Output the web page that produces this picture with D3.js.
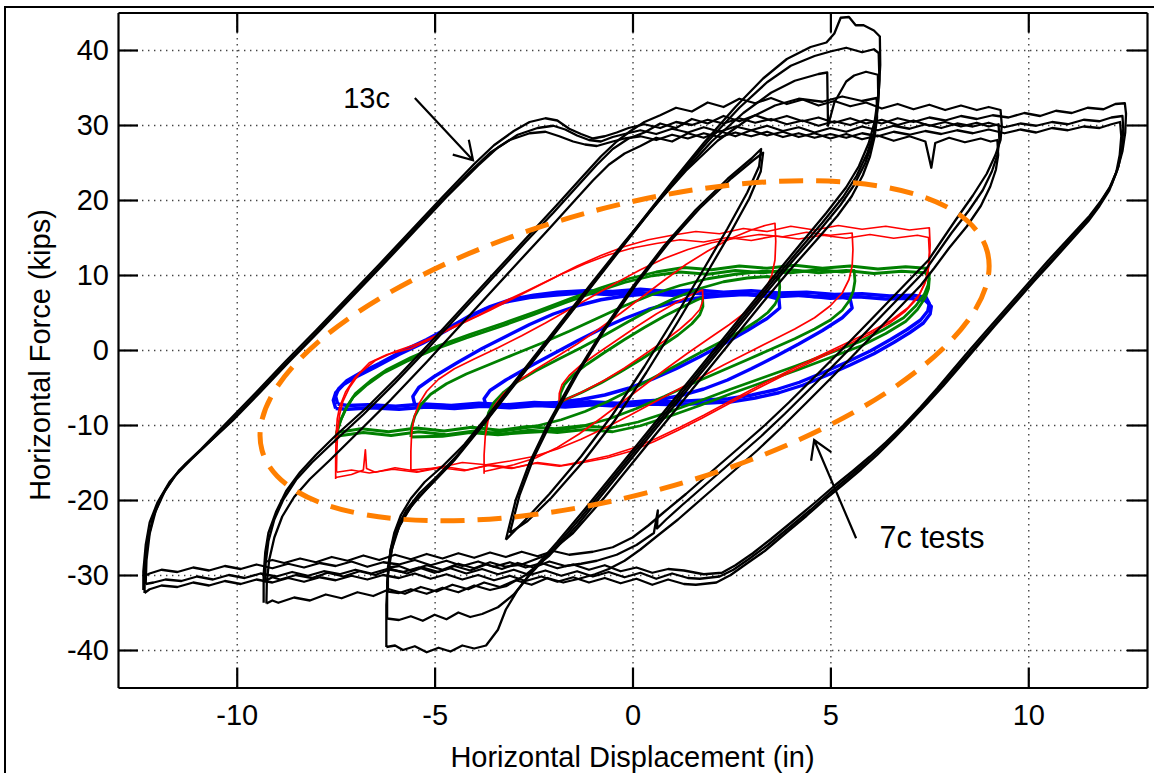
<!DOCTYPE html>
<html>
<head>
<meta charset="utf-8">
<script src="https://cdn.jsdelivr.net/npm/d3@7"></script>
<style>
  body { margin: 0; background: #fff; }
  text { font-family: "Liberation Sans", Arial, Helvetica, sans-serif; }
</style>
</head>
<body>
<svg id="chart" width="1154" height="773"></svg>
<script>
// ---- axis ticks ----
const xTicks = [-10, -5, 0, 5, 10];
const yTicks = [-40, -30, -20, -10, 0, 10, 20, 30, 40];

// ---- 13c specimen: three cycles at ~12.4 in ----
const c13_12a = [[-12.36,-32.0],[-12.36,-29.5],[-12.3,-26],[-12.2,-23],[-12.0,-20.3],[-11.7,-17.6],[-11.3,-15.2],[-10.9,-13.2],[-10.2,-9.4],[-9.5,-5.6],[-8.8,-1.7],[-8.0,2.6],[-7.2,7.0],[-6.4,11.4],[-5.6,15.9],[-4.8,20.4],[-4.0,24.8],[-3.5,27.3],[-3.0,29.2],[-2.6,30.4],[-2.2,30.9],[-1.9,30.6],[-1.6,29.5],[-1.3,28.8],[-1.0,28.2],[-0.7,28.5],[-0.4,29.0],[-0.1,29.6],
[0.3,30.1],[0.7,29.6],[1.1,30.4],[1.5,30.0],[1.9,30.7],[2.3,30.2],[2.7,30.9],[3.1,30.3],[3.5,30.8],[3.9,30.1],[4.3,30.6],[4.7,29.9],[5.1,30.5],[5.5,30.0],[5.9,30.7],[6.3,30.2],[6.7,30.9],[7.1,30.4],[7.5,31.0],[7.9,30.6],[8.3,31.2],[8.7,30.8],[9.1,31.3],[9.5,31.0],[9.9,31.6],[10.3,31.2],[10.7,31.9],[11.1,31.6],[11.5,32.3],[11.9,32.1],[12.2,32.8],[12.44,32.9],
[12.47,31.5],[12.45,29],[12.38,26.5],[12.25,24],[12.05,21.6],[11.84,19.9],[11.55,17.9],[11.2,15.9],[10.85,13.9],[10.5,11.9],[10.0,8.9],[9.5,5.9],[9.0,2.9],[8.52,0.0],[8.1,-2.6],[7.7,-5.1],[7.28,-7.6],[6.85,-10.0],[6.4,-12.3],[6.0,-14.2],[5.55,-16.2],[5.08,-18.2],[4.6,-20.4],[4.1,-22.6],[3.5,-25.2],[3.04,-27.1],[2.6,-28.7],[2.26,-29.7],
[1.8,-29.9],[1.3,-29.4],[0.9,-29.2],[0.5,-29.7],[0.1,-29.0],[-0.3,-29.5],[-0.7,-28.7],[-1.1,-29.3],[-1.5,-28.6],[-1.9,-29.1],[-2.3,-28.4],[-2.7,-29.0],[-3.1,-28.3],[-3.5,-28.9],[-3.9,-28.2],[-4.3,-28.8],[-4.7,-28.1],[-5.1,-28.7],[-5.5,-28.0],[-5.9,-28.6],[-6.3,-28.3],[-6.7,-28.9],[-7.1,-28.2],[-7.5,-28.8],[-7.9,-28.4],[-8.3,-29.0],[-8.7,-28.5],[-9.1,-29.1],[-9.5,-28.6],[-9.9,-29.2],[-10.3,-28.8],[-10.7,-29.4],[-11.1,-29.0],[-11.5,-29.6],[-11.9,-29.3],[-12.2,-29.8],[-12.36,-30.2]];
const c13_12b = [[-12.3,-31.2],[-12.28,-28],[-12.2,-24.5],[-12.05,-21.5],[-11.8,-18.6],[-11.45,-16],[-11.0,-13.8],[-10.1,-9.4],[-9.4,-5.6],[-8.7,-1.7],[-7.9,2.6],[-7.1,7.0],[-6.3,11.4],[-5.5,15.9],[-4.7,20.4],[-3.9,24.6],[-3.4,27.0],[-2.9,28.7],[-2.4,29.6],[-2.0,29.9],[-1.7,29.4],[-1.4,28.6],[-1.1,28.0],[-0.8,27.8],[-0.5,28.4],[-0.2,28.8],
[0.2,29.3],[0.6,28.8],[1.0,29.5],[1.4,29.0],[1.8,29.7],[2.2,29.1],[2.6,29.8],[3.0,29.3],[3.4,29.9],[3.8,29.2],[4.2,29.7],[4.6,29.0],[5.0,29.6],[5.4,29.1],[5.8,29.8],[6.2,29.3],[6.6,29.9],[7.0,29.5],[7.4,30.1],[7.8,29.6],[8.2,30.2],[8.6,29.8],[9.0,30.3],[9.4,29.7],[9.8,30.2],[10.2,29.9],[10.6,30.4],[11.0,30.1],[11.4,30.7],[11.8,30.5],[12.1,31.0],[12.38,31.2],
[12.4,29.5],[12.37,27],[12.28,24.5],[12.1,22],[11.9,20.3],[11.65,18.3],[11.32,16.3],[10.98,14.3],[10.64,12.3],[10.3,10.3],[9.8,7.3],[9.3,4.3],[8.82,1.4],[8.36,-1.4],[7.95,-3.9],[7.55,-6.3],[7.14,-8.6],[6.72,-10.9],[6.28,-13.2],[5.88,-15.1],[5.43,-17.1],[4.97,-19.1],[4.5,-21.3],[4.0,-23.5],[3.42,-26.0],[2.96,-27.8],[2.55,-29.3],[2.2,-30.2],
[1.7,-30.5],[1.4,-30.4],[1.0,-29.8],[0.6,-30.5],[0.2,-29.7],[-0.2,-30.3],[-0.6,-29.6],[-1.0,-30.2],[-1.4,-29.5],[-1.8,-30.1],[-2.2,-29.4],[-2.6,-30.0],[-3.0,-29.3],[-3.4,-29.9],[-3.8,-29.2],[-4.2,-29.8],[-4.6,-29.1],[-5.0,-29.7],[-5.4,-29.0],[-5.8,-29.6],[-6.2,-29.2],[-6.6,-29.8],[-7.0,-29.3],[-7.4,-29.9],[-7.8,-29.5],[-8.2,-30.1],[-8.6,-29.6],[-9.0,-30.2],[-9.4,-29.8],[-9.8,-30.4],[-10.2,-30.0],[-10.6,-30.6],[-11.0,-30.2],[-11.4,-30.8],[-11.8,-30.6],[-12.1,-31.0],[-12.3,-31.2]];
const c13_12c = [[-12.33,-32.4],[-12.32,-29],[-12.25,-25.5],[-12.12,-22.4],[-11.9,-19.5],[-11.58,-16.9],[-11.15,-14.6],[-10.3,-10.3],[-9.6,-6.5],[-8.9,-2.6],[-8.1,1.7],[-7.3,6.1],[-6.5,10.5],[-5.7,15.0],[-4.9,19.5],[-4.1,23.8],[-3.6,26.3],[-3.1,28.0],[-2.6,28.9],[-2.2,29.1],[-1.85,28.5],[-1.5,27.8],[-1.2,27.4],[-0.9,27.2],[-0.5,27.8],[-0.2,28.2],
[0.2,28.5],[0.6,28.0],[1.0,28.7],[1.4,28.2],[1.8,28.9],[2.2,28.4],[2.6,29.0],[3.0,28.5],[3.4,29.1],[3.8,28.4],[4.2,28.9],[4.6,28.3],[5.0,28.8],[5.4,28.3],[5.8,28.9],[6.2,28.5],[6.6,29.1],[7.0,28.7],[7.4,29.2],[7.8,28.8],[8.2,29.3],[8.6,28.9],[9.0,29.4],[9.4,28.9],[9.8,29.4],[10.2,29.0],[10.6,29.6],[11.0,29.3],[11.4,29.8],[11.8,29.6],[12.1,30.1],[12.32,30.4],
[12.35,28.5],[12.31,26],[12.22,23.6],[12.04,21.2],[11.8,19.2],[11.52,17.2],[11.18,15.2],[10.84,13.2],[10.5,11.2],[10.15,9.2],[9.65,6.2],[9.15,3.2],[8.68,0.3],[8.26,-2.3],[7.85,-4.8],[7.45,-7.1],[7.04,-9.4],[6.62,-11.7],[6.18,-14.0],[5.78,-15.9],[5.33,-17.9],[4.87,-19.9],[4.4,-22.1],[3.9,-24.3],[3.34,-26.8],[2.88,-28.5],[2.48,-30.0],[2.12,-31.0],
[1.6,-31.3],[1.3,-31.2],[0.9,-30.6],[0.5,-31.3],[0.1,-30.5],[-0.3,-31.1],[-0.7,-30.4],[-1.1,-31.0],[-1.5,-30.3],[-1.9,-30.9],[-2.3,-30.2],[-2.7,-30.8],[-3.1,-30.1],[-3.5,-30.7],[-3.9,-30.0],[-4.3,-30.6],[-4.7,-29.9],[-5.1,-30.5],[-5.5,-29.8],[-5.9,-30.4],[-6.3,-30.0],[-6.7,-30.6],[-7.1,-30.1],[-7.5,-30.7],[-7.9,-30.3],[-8.3,-30.9],[-8.7,-30.4],[-9.1,-31.0],[-9.5,-30.6],[-9.9,-31.2],[-10.3,-30.8],[-10.7,-31.4],[-11.1,-31.0],[-11.5,-31.6],[-11.9,-31.4],[-12.2,-31.9],[-12.33,-32.4]];

// ---- 13c specimen: cycles at ~9.3 in ----
const c13_9a = [[-9.32,-33.7],[-9.32,-30],[-9.28,-27],[-9.2,-24.4],[-9.0,-21.5],[-8.75,-18.8],[-8.4,-16.3],[-8.0,-14.0],[-7.5,-11.4],[-6.7,-7.6],[-5.9,-3.4],[-5.0,1.6],[-4.2,6.2],[-3.4,10.8],[-2.6,15.4],[-1.9,19.4],[-1.3,22.9],[-0.8,25.8],[-0.4,27.8],[-0.05,29.2],
[0.3,30.4],[0.7,31.3],[1.1,32.3],[1.5,31.8],[1.9,33.0],[2.3,32.4],[2.7,33.5],[3.1,32.9],[3.5,33.6],[3.9,32.8],[4.3,33.4],[4.7,32.6],[5.1,33.2],[5.5,32.5],[5.9,33.0],[6.3,32.2],[6.7,32.8],[7.1,32.1],[7.5,32.7],[7.9,32.0],[8.3,32.6],[8.7,32.0],[9.0,32.4],[9.3,32.0],
[9.33,30],[9.3,28],[9.17,26.0],[8.95,23.5],[8.6,20.6],[8.16,17.3],[7.8,14.5],[7.48,12.0],[6.75,8.0],[6.0,3.9],[5.3,0.1],[4.6,-3.6],[3.95,-7.0],[3.35,-10.0],[2.7,-13.0],[2.0,-16.2],[1.35,-19.2],[0.8,-21.6],[0.4,-23.4],[0.0,-25.0],[-0.5,-26.3],[-1.0,-26.9],
[-1.6,-27.3],[-2.0,-26.8],[-2.4,-27.5],[-2.8,-26.9],[-3.2,-27.6],[-3.6,-27.0],[-4.0,-27.7],[-4.4,-27.1],[-4.8,-27.8],[-5.2,-27.2],[-5.6,-27.9],[-6.0,-27.3],[-6.4,-28.0],[-6.8,-27.4],[-7.2,-28.1],[-7.6,-27.6],[-8.0,-28.3],[-8.4,-27.8],[-8.8,-28.4],[-9.1,-28.0],[-9.32,-28.3]];
const c13_9b = [[-9.28,-31.0],[-9.27,-28.5],[-9.2,-25.5],[-9.05,-22.6],[-8.82,-19.9],[-8.5,-17.3],[-8.1,-15.0],[-7.6,-12.5],[-6.8,-8.6],[-6.0,-4.4],[-5.1,0.6],[-4.3,5.2],[-3.5,9.8],[-2.7,14.4],[-2.0,18.3],[-1.4,21.8],[-0.9,24.7],[-0.5,26.8],[-0.1,28.2],
[0.3,29.0],[0.7,30.2],[1.1,29.6],[1.5,30.8],[1.9,30.2],[2.3,31.2],[2.7,30.5],[3.1,31.3],[3.5,30.6],[3.9,31.2],[4.3,30.5],[4.7,31.0],[5.1,30.3],[5.5,30.9],[5.9,30.2],[6.3,30.7],[6.7,30.0],[7.1,30.6],[7.5,29.9],[7.9,30.4],[8.3,29.8],[8.7,30.3],[9.0,29.8],[9.25,30.1],
[9.27,28],[9.22,26],[9.08,23.8],[8.85,21.3],[8.5,18.6],[8.06,15.6],[7.7,12.9],[7.38,10.5],[6.65,6.5],[5.9,2.4],[5.2,-1.4],[4.5,-5.1],[3.85,-8.5],[3.25,-11.5],[2.6,-14.5],[1.9,-17.7],[1.25,-20.7],[0.85,-22.6],[0.62,-23.8],[0.64,-21.4],[0.54,-24.4],[0.1,-26.0],[-0.4,-27.3],[-0.9,-28.1],[-1.3,-28.5],
[-1.7,-28.8],[-2.1,-28.2],[-2.5,-29.0],[-2.9,-28.4],[-3.3,-29.2],[-3.7,-28.6],[-4.1,-29.4],[-4.5,-28.8],[-4.9,-29.6],[-5.3,-29.0],[-5.7,-29.8],[-6.1,-29.2],[-6.5,-30.0],[-6.9,-29.5],[-7.3,-30.2],[-7.7,-29.7],[-8.1,-30.4],[-8.5,-30.0],[-8.9,-30.6],[-9.1,-30.3],[-9.28,-30.8]];
const c13_9c = [[-9.25,-33.8],[-9.24,-31],[-9.18,-28],[-9.05,-25.0],[-8.85,-22.2],[-8.55,-19.6],[-8.15,-17.2],[-7.65,-14.7],[-6.9,-10.8],[-6.1,-6.6],[-5.2,-1.6],[-4.4,3.0],[-3.6,7.6],[-2.8,12.2],[-2.1,16.2],[-1.5,19.7],[-1.0,22.6],[-0.6,24.7],[-0.2,26.2],
[0.2,27.2],[0.6,28.3],[1.0,27.8],[1.4,28.9],[1.8,28.3],[2.2,29.2],[2.6,28.5],[3.0,29.3],[3.4,28.6],[3.8,29.1],[4.2,28.4],[4.6,28.9],[5.0,28.2],[5.4,28.8],[5.8,28.1],[6.2,28.6],[6.6,27.9],[7.0,28.5],[7.4,27.8],[7.55,24.3],[7.65,27.6],[8.0,28.3],[8.4,27.7],[8.8,28.2],[9.05,27.8],[9.22,28.0],
[9.24,26],[9.18,24],[9.04,21.8],[8.8,19.2],[8.45,16.5],[8.0,13.6],[7.62,10.9],[7.28,8.6],[6.55,4.6],[5.8,0.5],[5.1,-3.3],[4.4,-7.0],[3.75,-10.4],[3.15,-13.4],[2.5,-16.4],[1.8,-19.6],[1.15,-22.6],[0.6,-24.9],[0.2,-26.6],[-0.2,-28.1],[-0.6,-29.2],[-0.95,-29.9],[-1.35,-30.5],
[-1.75,-31.0],[-2.15,-30.4],[-2.55,-31.3],[-2.95,-30.7],[-3.35,-31.6],[-3.75,-31.0],[-4.15,-31.9],[-4.55,-31.3],[-4.95,-32.2],[-5.35,-31.6],[-5.75,-32.5],[-6.15,-31.9],[-6.55,-32.8],[-6.95,-32.3],[-7.35,-33.1],[-7.75,-32.6],[-8.15,-33.4],[-8.55,-33.0],[-8.95,-33.7],[-9.1,-33.4],[-9.25,-33.8]];

// ---- 13c specimen: cycles at ~6.2 in ----
const c13_6a = [[-6.22,-39.6],[-6.22,-34],[-6.18,-30],[-6.08,-26.6],[-5.9,-23.6],[-5.6,-20.9],[-5.2,-18.5],[-4.6,-15.2],[-3.8,-10.0],[-3.0,-4.6],[-2.2,0.8],[-1.4,6.2],[-0.6,11.6],[0.2,17.0],[1.0,22.4],[1.8,27.6],[2.6,32.4],[3.3,36.2],[3.9,38.8],[4.5,40.4],[4.9,41.0],[5.1,42.2],[5.26,44.3],[5.47,44.4],[5.64,43.3],[5.84,43.3],[6.1,42.6],[6.25,41.8],
[6.26,38],[6.22,34.3],[6.12,30.5],[5.97,27.6],[5.72,24.5],[5.4,21.7],[4.9,18.3],[4.3,14.5],[3.6,10.0],[2.8,4.8],[2.0,-0.4],[1.2,-5.6],[0.4,-10.8],[-0.4,-16.0],[-1.2,-21.2],[-1.9,-25.6],[-2.5,-29.2],[-2.9,-32.0],[-3.2,-34.6],[-3.4,-37.3],[-3.7,-39.4],
[-4.0,-39.8],[-4.3,-39.4],[-4.6,-40.2],[-4.9,-39.7],[-5.2,-40.3],[-5.5,-39.5],[-5.8,-40.0],[-6.0,-39.4],[-6.22,-39.6]];
const c13_6b = [[-6.2,-35.8],[-6.2,-31],[-6.14,-28],[-6.02,-25.2],[-5.82,-22.6],[-5.5,-20.2],[-5.08,-17.9],[-4.5,-14.7],[-3.7,-9.5],[-2.9,-4.1],[-2.1,1.3],[-1.3,6.7],[-0.5,12.1],[0.3,17.5],[1.1,22.8],[1.9,27.8],[2.7,32.3],[3.4,35.7],[4.0,37.9],[4.6,39.2],[5.0,39.8],[5.4,40.3],[5.8,39.7],[6.1,40.1],[6.22,39.6],
[6.24,36],[6.2,32.5],[6.1,29.0],[5.93,26.2],[5.66,23.2],[5.32,20.4],[4.8,17.0],[4.2,13.3],[3.5,8.9],[2.7,3.7],[1.9,-1.5],[1.1,-6.7],[0.3,-11.9],[-0.5,-17.1],[-1.3,-22.3],[-2.0,-26.6],[-2.6,-30.0],[-3.0,-32.6],[-3.4,-34.3],[-3.8,-35.2],
[-4.1,-35.6],[-4.4,-35.0],[-4.7,-35.9],[-5.0,-35.3],[-5.3,-36.1],[-5.6,-35.5],[-5.9,-36.0],[-6.2,-35.8]];
const c13_6c = [[-6.18,-32.2],[-6.18,-29],[-6.1,-26.4],[-5.96,-23.8],[-5.72,-21.4],[-5.38,-19.1],[-4.95,-16.9],[-4.4,-13.9],[-3.6,-8.7],[-2.8,-3.3],[-2.0,2.1],[-1.2,7.5],[-0.4,12.9],[0.4,18.2],[1.2,23.2],[2.0,27.8],[2.8,31.6],[3.5,34.3],[4.1,35.9],[4.7,36.8],[4.92,37.0],[4.94,29.9],[5.1,33.0],[5.4,35.8],[5.6,36.6],[5.9,37.1],[6.2,36.7],
[6.21,33.5],[6.16,30.5],[6.05,27.5],[5.88,24.9],[5.6,22.0],[5.25,19.3],[4.72,15.9],[4.1,12.2],[3.4,7.8],[2.6,2.6],[1.8,-2.6],[1.0,-7.8],[0.2,-13.0],[-0.6,-18.2],[-1.4,-23.4],[-2.1,-27.4],[-2.7,-30.0],[-3.2,-31.5],
[-3.6,-32.0],[-4.0,-31.4],[-4.4,-32.3],[-4.8,-31.7],[-5.2,-32.5],[-5.6,-31.9],[-5.9,-32.4],[-6.18,-32.2]];
const c13_6d = [[-6.15,-29.0],[-6.12,-26.8],[-6.02,-24.4],[-5.85,-22.0],[-5.6,-19.8],[-5.25,-17.6],[-4.8,-15.5],[-4.25,-12.6],[-3.45,-7.4],[-2.65,-2.0],[-1.85,3.4],[-1.05,8.8],[-0.25,14.1],[0.55,19.2],[1.35,23.9],[2.15,27.9],[2.95,30.9],[3.6,32.6],[4.2,33.5],[4.8,33.1],[5.3,33.8],[5.8,33.2],[6.17,33.6],
[6.18,31],[6.12,28.5],[6.0,25.8],[5.82,23.3],[5.54,20.5],[5.18,17.9],[4.64,14.6],[4.0,10.8],[3.3,6.4],[2.5,1.2],[1.7,-4.0],[0.9,-9.2],[0.1,-14.4],[-0.7,-19.6],[-1.5,-24.4],[-2.2,-27.4],[-2.8,-28.6],
[-3.2,-28.9],[-3.6,-28.3],[-4.0,-29.1],[-4.4,-28.5],[-4.8,-29.3],[-5.2,-28.7],[-5.6,-29.4],[-5.9,-28.8],[-6.15,-29.0]];

// ---- 13c specimen: cycles at ~3.2 in ----
const c13_3a = [[-3.2,-25.3],[-2.95,-20],[-2.6,-15],[-2.1,-9.5],[-1.5,-3.8],[-0.8,2.2],[0.0,8.4],[0.8,13.9],[1.6,18.7],[2.4,22.8],[3.0,25.5],[3.25,26.8],[3.2,24.5],[2.9,21],[2.4,16.2],[1.8,10.8],[1.1,4.6],[0.3,-2.2],[-0.5,-8.6],[-1.3,-14.2],[-2.1,-19.2],[-2.7,-22.6],[-3.2,-25.3]];
const c13_3b = [[-3.1,-24.4],[-2.85,-19.3],[-2.5,-14.4],[-2.0,-9.0],[-1.4,-3.3],[-0.7,2.7],[0.1,8.8],[0.9,14.2],[1.7,18.9],[2.5,22.9],[3.05,25.3],[3.3,26.3],[3.24,23.8],[2.95,20.2],[2.45,15.4],[1.85,10.0],[1.15,3.8],[0.35,-3.0],[-0.45,-9.4],[-1.25,-14.9],[-2.05,-19.7],[-2.65,-22.8],[-3.1,-24.4]];

// ---- 7c tests, blue specimen ----
const blue75a = [[-7.5,-7.8],[-7.56,-6.7],[-7.5,-5.7],[-7.3,-4.6],[-6.95,-3.5],[-6.5,-2.3],[-5.9,-0.6],[-5.3,0.9],[-4.7,2.6],[-4.2,4.2],[-3.7,5.5],[-3.2,6.4],[-2.6,7.0],[-2.0,7.3],[-1.3,7.6],[-0.6,7.4],[0.1,7.7],[0.8,7.4],[1.5,7.6],[2.2,7.3],[2.9,7.5],[3.6,7.1],[4.3,7.3],[5.0,6.9],[5.7,7.1],[6.4,6.8],[7.0,6.9],[7.4,6.6],[7.55,5.8],
[7.52,4.8],[7.35,3.6],[7.0,2.3],[6.6,1.0],[6.1,-0.5],[5.5,-2.0],[4.9,-3.4],[4.3,-4.7],[3.7,-5.7],[3.1,-6.4],[2.5,-6.9],[1.8,-7.1],[1.1,-7.3],[0.4,-7.2],[-0.3,-7.5],[-1.0,-7.3],[-1.7,-7.6],[-2.4,-7.4],[-3.1,-7.7],[-3.8,-7.5],[-4.5,-7.8],[-5.2,-7.6],[-5.9,-7.9],[-6.6,-7.7],[-7.2,-7.9],[-7.5,-7.8]];
const blue75b = [[-7.45,-7.2],[-7.5,-6.2],[-7.43,-5.2],[-7.22,-4.1],[-6.86,-3.0],[-6.4,-1.8],[-5.8,-0.1],[-5.2,1.4],[-4.6,3.1],[-4.1,4.6],[-3.6,5.8],[-3.1,6.7],[-2.5,7.3],[-1.9,7.7],[-1.2,7.9],[-0.5,7.8],[0.2,8.1],[0.9,7.8],[1.6,8.0],[2.3,7.7],[3.0,7.9],[3.7,7.6],[4.4,7.7],[5.1,7.4],[5.8,7.5],[6.5,7.2],[7.1,7.3],[7.42,7.0],[7.5,6.2],
[7.46,5.2],[7.28,4.0],[6.93,2.7],[6.52,1.4],[6.02,-0.1],[5.42,-1.6],[4.82,-3.0],[4.22,-4.3],[3.62,-5.3],[3.02,-6.0],[2.42,-6.5],[1.72,-6.7],[1.02,-6.9],[0.32,-6.8],[-0.38,-7.1],[-1.08,-6.9],[-1.78,-7.2],[-2.48,-7.0],[-3.18,-7.3],[-3.88,-7.1],[-4.58,-7.4],[-5.28,-7.2],[-5.98,-7.5],[-6.68,-7.3],[-7.2,-7.4],[-7.45,-7.2]];
const blue56 = [[-5.5,-7.3],[-5.55,-6.2],[-5.4,-5],[-5.0,-3.5],[-4.4,-1.6],[-3.8,0.2],[-3.2,1.8],[-2.6,3.4],[-2.0,4.8],[-1.4,5.9],[-0.8,6.7],[-0.2,7.2],[0.4,7.5],[1.0,7.3],[1.6,7.6],[2.2,7.3],[2.8,7.5],[3.4,7.2],[4.0,7.4],[4.6,7.1],[5.2,7.2],[5.5,6.8],
[5.55,5.6],[5.3,4.3],[4.8,2.6],[4.2,0.8],[3.6,-0.9],[3.0,-2.5],[2.4,-4.0],[1.8,-5.2],[1.2,-6.1],[0.6,-6.7],[0.0,-7.0],[-0.6,-7.3],[-1.2,-7.1],[-1.8,-7.4],[-2.4,-7.2],[-3.0,-7.5],[-3.6,-7.3],[-4.2,-7.6],[-4.8,-7.4],[-5.5,-7.3]];
const blue37 = [[-3.7,-7.4],[-3.75,-6.5],[-3.6,-5.4],[-3.2,-4.0],[-2.6,-2.2],[-2.0,-0.5],[-1.4,1.2],[-0.8,2.8],[-0.2,4.2],[0.4,5.4],[1.0,6.3],[1.6,6.9],[2.2,7.2],[2.8,7.4],[3.4,7.2],[3.7,6.8],
[3.72,5.6],[3.4,4.2],[2.9,2.6],[2.3,0.8],[1.7,-0.9],[1.1,-2.5],[0.5,-3.9],[-0.1,-5.1],[-0.7,-6.0],[-1.3,-6.6],[-1.9,-7.0],[-2.5,-7.2],[-3.1,-7.4],[-3.7,-7.4]];

// ---- 7c tests, green specimen ----
const green75a = [[-7.5,-12.4],[-7.48,-11],[-7.4,-9.7],[-7.25,-7.9],[-7.06,-6.3],[-6.7,-4.6],[-6.3,-3.1],[-5.7,-1.5],[-5.04,0],[-4.2,1.6],[-3.35,3.1],[-2.5,4.7],[-1.7,6.3],[-0.9,7.8],[-0.2,9.0],[0.5,9.9],[1.2,10.4],[1.9,10.1],[2.6,10.6],[3.3,10.3],[4.0,10.7],[4.7,10.3],[5.4,10.6],[6.1,10.2],[6.8,10.5],[7.4,10.3],
[7.5,9.5],[7.48,8.2],[7.4,7.0],[7.2,5.4],[6.9,3.8],[6.4,2.2],[5.8,0.6],[5.0,-1.0],[4.2,-2.6],[3.35,-4.2],[2.5,-5.8],[1.7,-7.4],[0.9,-8.9],[0.2,-10.1],[-0.5,-10.9],[-1.2,-10.6],[-1.9,-11.0],[-2.6,-10.7],[-3.3,-11.2],[-4.0,-10.8],[-4.7,-11.3],[-5.4,-10.9],[-6.1,-11.4],[-6.8,-11.0],[-7.5,-11.5]];
const green75b = [[-7.46,-11.8],[-7.44,-10.5],[-7.36,-9.2],[-7.2,-7.4],[-7.0,-5.8],[-6.62,-4.1],[-6.2,-2.6],[-5.6,-1.0],[-4.94,0.5],[-4.1,2.1],[-3.25,3.6],[-2.4,5.2],[-1.6,6.8],[-0.8,8.3],[-0.1,9.5],[0.6,10.4],[1.3,11.0],[2.0,10.7],[2.7,11.2],[3.4,10.9],[4.1,11.3],[4.8,10.9],[5.5,11.2],[6.2,10.8],[6.9,11.1],[7.42,10.9],
[7.5,10.0],[7.47,8.7],[7.38,7.5],[7.16,5.9],[6.85,4.3],[6.34,2.7],[5.74,1.1],[4.94,-0.5],[4.14,-2.1],[3.29,-3.7],[2.44,-5.3],[1.64,-6.9],[0.84,-8.4],[0.14,-9.6],[-0.56,-10.4],[-1.26,-10.1],[-1.96,-10.5],[-2.66,-10.2],[-3.36,-10.7],[-4.06,-10.3],[-4.76,-10.8],[-5.46,-10.4],[-6.16,-10.9],[-6.86,-10.5],[-7.46,-11.0]];
const green56 = [[-5.6,-11.6],[-5.58,-10.2],[-5.5,-8.8],[-5.35,-7.3],[-5.1,-5.9],[-4.7,-4.5],[-4.2,-3.2],[-3.6,-1.9],[-3.0,-0.6],[-2.3,0.9],[-1.6,2.5],[-0.9,4.2],[-0.2,5.9],[0.5,7.4],[1.2,8.6],[1.9,9.5],[2.6,10.1],[3.3,10.5],[4.0,10.3],[4.7,10.7],[5.3,10.4],[5.6,10.6],
[5.62,9.2],[5.58,7.9],[5.48,6.6],[5.3,5.3],[5.0,4.0],[4.6,2.8],[4.1,1.5],[3.5,0.1],[2.9,-1.3],[2.2,-2.9],[1.5,-4.5],[0.8,-6.2],[0.1,-7.8],[-0.6,-9.2],[-1.3,-10.2],[-2.0,-10.8],[-2.7,-11.0],[-3.4,-11.3],[-4.1,-11.0],[-4.8,-11.5],[-5.6,-11.6]];
const green37 = [[-3.72,-11.2],[-3.7,-9.8],[-3.64,-8.4],[-3.5,-7.0],[-3.25,-5.6],[-2.9,-4.2],[-2.45,-2.8],[-1.9,-1.3],[-1.3,0.3],[-0.7,2.0],[-0.1,3.8],[0.5,5.5],[1.1,7.0],[1.7,8.2],[2.3,9.1],[2.9,9.6],[3.4,9.8],[3.7,9.6],
[3.72,8.4],[3.7,7.2],[3.6,6.1],[3.42,5.0],[3.15,3.9],[2.8,2.7],[2.35,1.4],[1.8,-0.1],[1.2,-1.8],[0.6,-3.5],[0.0,-5.2],[-0.6,-6.8],[-1.2,-8.2],[-1.8,-9.3],[-2.4,-10.1],[-3.0,-10.6],[-3.72,-11.2]];
const green18 = [[-1.84,-7.0],[-1.82,-5.8],[-1.72,-4.6],[-1.5,-3.3],[-1.15,-1.9],[-0.7,-0.3],[-0.2,1.4],[0.3,3.0],[0.8,4.5],[1.25,5.7],[1.6,6.6],[1.77,7.0],[1.78,5.8],[1.7,4.7],[1.5,3.5],[1.15,2.0],[0.7,0.4],[0.2,-1.3],[-0.3,-2.9],[-0.8,-4.4],[-1.3,-5.7],[-1.65,-6.5],[-1.84,-7.0]];

// ---- 7c tests, red specimen ----
const red75a = [[-7.5,-17.2],[-7.5,-14.5],[-7.49,-11.5],[-7.46,-9.2],[-7.4,-7.6],[-7.25,-5.6],[-7.0,-3.6],[-6.65,-1.7],[-6.2,-0.6],[-5.6,0.2],[-5.04,1.6],[-4.5,3.2],[-3.9,4.6],[-3.35,6.2],[-2.7,7.8],[-2.0,9.6],[-1.4,11.2],[-0.8,12.6],[-0.2,13.8],[0.4,14.7],[1.0,15.3],[1.6,15.8],[2.2,15.5],[2.8,16.2],[3.4,15.8],[4.0,16.5],[4.6,16.0],[5.2,16.6],[5.8,16.1],[6.4,16.5],[7.0,16.0],[7.5,16.3],
[7.52,14],[7.5,11.5],[7.42,9.3],[7.25,7.4],[6.95,5.6],[6.55,4.0],[6.0,2.4],[5.4,0.9],[4.8,-0.6],[4.2,-2.1],[3.6,-3.7],[3.0,-5.3],[2.4,-7.0],[1.8,-8.7],[1.2,-10.3],[0.6,-11.8],[0.0,-13.1],[-0.6,-14.1],[-1.2,-14.8],[-1.8,-15.4],[-2.4,-15.0],[-3.0,-15.7],[-3.6,-15.3],[-4.2,-16.0],[-4.8,-15.5],[-5.4,-16.2],[-6.0,-15.7],[-6.5,-16.3],[-6.72,-15.8],[-6.75,-13.3],[-6.8,-16.0],[-7.1,-16.6],[-7.5,-17.0]];
const red75b = [[-7.48,-16.2],[-7.47,-13.5],[-7.45,-10.8],[-7.4,-8.6],[-7.32,-6.9],[-7.15,-5.0],[-6.9,-3.1],[-6.5,-1.4],[-6.0,-0.2],[-5.4,0.9],[-4.8,2.3],[-4.2,3.8],[-3.6,5.3],[-3.0,6.9],[-2.4,8.5],[-1.8,10.1],[-1.2,11.5],[-0.6,12.7],[0.0,13.6],[0.6,14.2],[1.2,14.7],[1.8,14.4],[2.4,15.0],[3.0,14.6],[3.6,15.2],[4.2,14.8],[4.8,15.3],[5.4,14.9],[6.0,15.4],[6.6,14.9],[7.2,15.3],[7.48,15.0],
[7.5,13],[7.47,10.8],[7.38,8.8],[7.2,6.9],[6.9,5.2],[6.5,3.6],[5.95,2.0],[5.35,0.5],[4.75,-1.0],[4.15,-2.5],[3.55,-4.1],[2.95,-5.7],[2.35,-7.4],[1.75,-9.1],[1.15,-10.7],[0.55,-12.2],[-0.05,-13.5],[-0.65,-14.4],[-1.25,-15.0],[-1.85,-15.5],[-2.45,-15.1],[-3.05,-15.8],[-3.65,-15.4],[-4.25,-16.1],[-4.85,-15.7],[-5.45,-16.3],[-6.05,-15.9],[-6.65,-16.4],[-7.1,-16.0],[-7.48,-16.3]];
const red56 = [[-5.6,-16.0],[-5.6,-13.5],[-5.58,-11.0],[-5.52,-9.0],[-5.4,-7.2],[-5.2,-5.5],[-4.9,-3.9],[-4.5,-2.5],[-4.0,-1.2],[-3.4,0.3],[-2.8,1.9],[-2.2,3.6],[-1.6,5.4],[-1.0,7.2],[-0.4,9.0],[0.2,10.7],[0.8,12.2],[1.4,13.4],[2.0,14.3],[2.6,14.9],[3.2,15.4],[3.8,15.1],[4.4,15.7],[5.0,15.3],[5.55,15.6],
[5.57,13.4],[5.55,11.2],[5.47,9.4],[5.3,7.6],[5.0,5.9],[4.6,4.3],[4.1,2.8],[3.5,1.2],[2.9,-0.4],[2.3,-2.0],[1.7,-3.7],[1.1,-5.4],[0.5,-7.1],[-0.1,-8.8],[-0.7,-10.4],[-1.3,-11.9],[-1.9,-13.2],[-2.5,-14.2],[-3.1,-14.8],[-3.7,-15.3],[-4.3,-15.0],[-4.9,-15.7],[-5.6,-16.0]];
const red37 = [[-3.75,-16.5],[-3.75,-14],[-3.72,-11.5],[-3.65,-9.4],[-3.5,-7.5],[-3.25,-5.8],[-2.9,-4.2],[-2.45,-2.6],[-1.95,-1.0],[-1.4,0.8],[-0.85,2.8],[-0.3,4.9],[0.25,7.1],[0.8,9.3],[1.35,11.4],[1.9,13.2],[2.45,14.8],[3.0,16.0],[3.35,16.6],[3.6,16.9],
[3.62,14.5],[3.6,12.0],[3.52,10.0],[3.38,8.2],[3.15,6.5],[2.85,5.0],[2.45,3.4],[1.95,1.6],[1.4,-0.4],[0.85,-2.5],[0.3,-4.7],[-0.25,-6.9],[-0.8,-9.1],[-1.35,-11.2],[-1.9,-13.0],[-2.45,-14.4],[-3.0,-15.3],[-3.4,-15.8],[-3.75,-16.2]];
const red18 = [[-1.85,-7.0],[-1.85,-5.8],[-1.78,-4.6],[-1.6,-3.4],[-1.3,-2.0],[-0.9,-0.5],[-0.4,1.3],[0.1,3.1],[0.6,4.8],[1.1,6.3],[1.5,7.4],[1.77,8.0],[1.78,6.6],[1.7,5.4],[1.5,4.2],[1.2,2.8],[0.8,1.2],[0.3,-0.6],[-0.2,-2.4],[-0.7,-4.0],[-1.2,-5.4],[-1.6,-6.4],[-1.85,-7.0]];

// ---- annotation anchors (data units) ----
const label13c = { text: "13c", size: 29, at: [-7.31, 32.3], from: [-5.5, 33.6], to: [-4.03, 25.3] };
const label7c = { text: "7c tests", size: 30.5, at: [6.24, -26.4], from: [5.65, -25.1], to: [4.59, -12.0] };
const envelopeCenter = [-0.2, -0.1];

// ---- layout ----
const W = 1154, H = 773;
const plot = { left: 118, right: 1147, top: 12.5, bottom: 687.5 };
const svg = d3.select("#chart");
const x = d3.scaleLinear().domain([-13, 13]).range([plot.left, plot.right]);
const y = d3.scaleLinear().domain([-45, 45]).range([plot.bottom, plot.top]);
const FONT = 29;
const fmt = d => String(d);   // plain hyphen for negatives

// outer frame (left and top edges)
svg.append("path")
  .attr("d", `M5,${H + 2} V7 H${W + 2}`)
  .attr("fill", "none").attr("stroke", "#000").attr("stroke-width", 2);

// dotted grid
const grid = svg.append("g").attr("class", "grid");
grid.append("g").attr("transform", `translate(0,${plot.bottom})`)
  .call(d3.axisBottom(x).tickValues(xTicks).tickSize(-(plot.bottom - plot.top)).tickFormat(""));
grid.append("g").attr("transform", `translate(${plot.left},0)`)
  .call(d3.axisLeft(y).tickValues(yTicks).tickSize(-(plot.right - plot.left)).tickFormat(""));
grid.selectAll(".domain").remove();
grid.selectAll("line").attr("stroke", "#444").attr("stroke-width", 1.4).attr("stroke-dasharray", "1.4,4.6");

// clipped data layer
svg.append("clipPath").attr("id", "clip").append("rect")
  .attr("x", plot.left).attr("y", plot.top)
  .attr("width", plot.right - plot.left).attr("height", plot.bottom - plot.top);
const layer = svg.append("g").attr("clip-path", "url(#clip)");
const line = d3.line().x(d => x(d[0])).y(d => y(d[1]));

function drawLoops(loops, color, width) {
  layer.append("g").selectAll("path").data(loops).join("path")
    .attr("d", line).attr("fill", "none").attr("stroke", color)
    .attr("stroke-width", width).attr("stroke-linejoin", "round");
}
drawLoops([blue75a, blue75b, blue56, blue37], "#0000ff", 3.4);
drawLoops([green75a, green75b, green56, green37, green18], "#008000", 2.8);
drawLoops([red75a, red75b, red56, red37, red18], "#ff0000", 1.7);
drawLoops([c13_12a, c13_12b, c13_12c, c13_9a, c13_9b, c13_9c,
           c13_6a, c13_6b, c13_6c, c13_6d, c13_3a, c13_3b], "#000", 2.3);

// dashed envelope around the 7c tests
layer.append("ellipse")
  .attr("transform", `translate(${x(envelopeCenter[0])},${y(envelopeCenter[1])}) rotate(-15.35)`)
  .attr("rx", 376).attr("ry", 143)
  .attr("fill", "none").attr("stroke", "#ff7f00").attr("stroke-width", 5)
  .attr("stroke-dasharray", "24,13");

// axes: box with inward ticks on all four sides
function styleAxis(g) {
  g.selectAll(".domain").attr("stroke", "#000").attr("stroke-width", 2.2);
  g.selectAll(".tick line").attr("stroke", "#000").attr("stroke-width", 2.2);
  g.selectAll("text").attr("font-size", FONT).attr("fill", "#000")
    .attr("font-family", "'Liberation Sans', Arial, sans-serif");
}
svg.append("g").attr("transform", `translate(0,${plot.bottom})`)
  .call(d3.axisBottom(x).tickValues(xTicks).tickFormat(fmt).tickSize(-20).tickSizeOuter(0).tickPadding(17))
  .call(styleAxis);
svg.append("g").attr("transform", `translate(0,${plot.top})`)
  .call(d3.axisTop(x).tickValues(xTicks).tickSize(-20).tickSizeOuter(0).tickFormat(""))
  .call(styleAxis);
svg.append("g").attr("transform", `translate(${plot.left},0)`)
  .call(d3.axisLeft(y).tickValues(yTicks).tickFormat(fmt).tickSize(-20).tickSizeOuter(0).tickPadding(9))
  .call(styleAxis);
svg.append("g").attr("transform", `translate(${plot.right},0)`)
  .call(d3.axisRight(y).tickValues(yTicks).tickSize(-20).tickSizeOuter(0).tickFormat(""))
  .call(styleAxis);

// axis titles
svg.append("text").attr("x", (plot.left + plot.right) / 2).attr("y", 767)
  .attr("text-anchor", "middle").attr("font-size", FONT).text("Horizontal Displacement (in)");
svg.append("text").attr("transform", `translate(50,355) rotate(-90)`)
  .attr("text-anchor", "middle").attr("font-size", FONT).text("Horizontal Force (kips)");

// annotations with open arrowheads
function annotate(a) {
  svg.append("text").attr("x", x(a.at[0])).attr("y", y(a.at[1]))
    .attr("font-size", a.size).text(a.text);
  const x0 = x(a.from[0]), y0 = y(a.from[1]), x1 = x(a.to[0]), y1 = y(a.to[1]);
  const ang = Math.atan2(y1 - y0, x1 - x0), len = 21, spread = 0.55;
  const p = d3.path();
  p.moveTo(x0, y0); p.lineTo(x1, y1);
  p.moveTo(x1 - len * Math.cos(ang - spread), y1 - len * Math.sin(ang - spread));
  p.lineTo(x1, y1);
  p.lineTo(x1 - len * Math.cos(ang + spread), y1 - len * Math.sin(ang + spread));
  svg.append("path").attr("d", p.toString()).attr("fill", "none")
    .attr("stroke", "#000").attr("stroke-width", 2.2).attr("stroke-linejoin", "miter");
}
annotate(label13c);
annotate(label7c);
</script>
</body>
</html>
